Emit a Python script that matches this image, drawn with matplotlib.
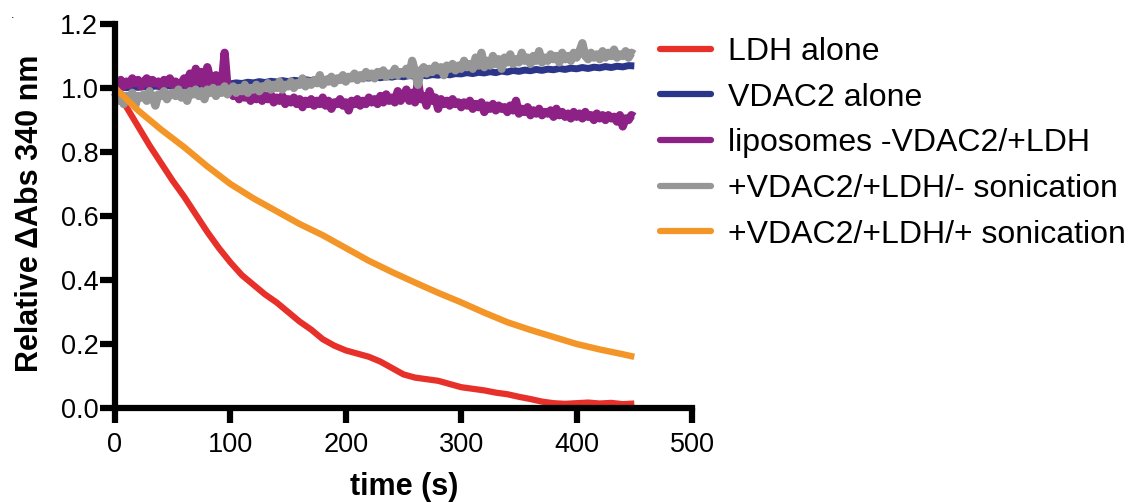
import matplotlib
matplotlib.use("Agg")
import matplotlib.pyplot as plt

plt.rcParams['font.family'] = ['Liberation Sans', 'DejaVu Sans']

# ---------------- data ----------------
labels = ["LDH alone", "VDAC2 alone", "liposomes -VDAC2/+LDH",
          "+VDAC2/+LDH/- sonication", "+VDAC2/+LDH/+ sonication"]
colors = ["#E8302A", "#2B3589", "#8E2186", "#969696", "#F39527"]

# blue trace sampled every 5 s (0..450 s)
t_blue = [0, 5, 10, 15, 20, 25, 30, 35, 40, 45,
          50, 55, 60, 65, 70, 75, 80, 85, 90, 95,
          100, 105, 110, 115, 120, 125, 130, 135, 140, 145,
          150, 155, 160, 165, 170, 175, 180, 185, 190, 195,
          200, 205, 210, 215, 220, 225, 230, 235, 240, 245,
          250, 255, 260, 265, 270, 275, 280, 285, 290, 295,
          300, 305, 310, 315, 320, 325, 330, 335, 340, 345,
          350, 355, 360, 365, 370, 375, 380, 385, 390, 395,
          400, 405, 410, 415, 420, 425, 430, 435, 440, 445,
          450]
vdac2_alone = [1.000, 1.003, 1.001, 1.004, 1.002, 1.005, 1.003, 1.006, 1.004, 1.007,
               1.006, 1.009, 1.007, 1.010, 1.008, 1.011, 1.010, 1.013, 1.011, 1.014,
               1.013, 1.016, 1.014, 1.018, 1.016, 1.020, 1.017, 1.021, 1.019, 1.023,
               1.020, 1.024, 1.022, 1.026, 1.023, 1.027, 1.025, 1.029, 1.026, 1.030,
               1.028, 1.032, 1.029, 1.033, 1.031, 1.035, 1.032, 1.036, 1.034, 1.038,
               1.035, 1.039, 1.037, 1.041, 1.038, 1.042, 1.040, 1.044, 1.041, 1.045,
               1.044, 1.048, 1.045, 1.049, 1.047, 1.051, 1.048, 1.053, 1.050, 1.055,
               1.052, 1.056, 1.054, 1.058, 1.055, 1.059, 1.057, 1.061, 1.058, 1.062,
               1.060, 1.064, 1.061, 1.065, 1.063, 1.067, 1.064, 1.068, 1.066, 1.070,
               1.069]

# purple and grey traces sampled every 2.5 s (0..450 s)
t_dense = [0, 2.5, 5, 7.5, 10, 12.5, 15, 17.5, 20, 22.5,
           25, 27.5, 30, 32.5, 35, 37.5, 40, 42.5, 45, 47.5,
           50, 52.5, 55, 57.5, 60, 62.5, 65, 67.5, 70, 72.5,
           75, 77.5, 80, 82.5, 85, 87.5, 90, 92.5, 95, 97.5,
           100, 102.5, 105, 107.5, 110, 112.5, 115, 117.5, 120, 122.5,
           125, 127.5, 130, 132.5, 135, 137.5, 140, 142.5, 145, 147.5,
           150, 152.5, 155, 157.5, 160, 162.5, 165, 167.5, 170, 172.5,
           175, 177.5, 180, 182.5, 185, 187.5, 190, 192.5, 195, 197.5,
           200, 202.5, 205, 207.5, 210, 212.5, 215, 217.5, 220, 222.5,
           225, 227.5, 230, 232.5, 235, 237.5, 240, 242.5, 245, 247.5,
           250, 252.5, 255, 257.5, 260, 262.5, 265, 267.5, 270, 272.5,
           275, 277.5, 280, 282.5, 285, 287.5, 290, 292.5, 295, 297.5,
           300, 302.5, 305, 307.5, 310, 312.5, 315, 317.5, 320, 322.5,
           325, 327.5, 330, 332.5, 335, 337.5, 340, 342.5, 345, 347.5,
           350, 352.5, 355, 357.5, 360, 362.5, 365, 367.5, 370, 372.5,
           375, 377.5, 380, 382.5, 385, 387.5, 390, 392.5, 395, 397.5,
           400, 402.5, 405, 407.5, 410, 412.5, 415, 417.5, 420, 422.5,
           425, 427.5, 430, 432.5, 435, 437.5, 440, 442.5, 445, 447.5,
           450]

liposomes = [1.000, 1.015, 1.025, 1.005, 1.020, 1.010, 1.030, 1.015, 1.025, 1.005,
             1.020, 1.030, 1.010, 1.025, 1.015, 1.020, 1.005, 1.025, 1.015, 1.030,
             1.010, 1.020, 1.005, 1.015, 1.030, 1.010, 1.045, 1.000, 1.060, 1.020,
             1.050, 1.005, 1.065, 1.030, 1.000, 1.040, 1.025, 1.010, 1.110, 1.000,
             0.990, 0.975, 0.985, 0.965, 0.980, 0.970, 0.985, 0.960, 0.975, 0.965,
             0.980, 0.960, 0.975, 0.965, 0.980, 0.955, 0.970, 0.960, 0.975, 0.950,
             0.965, 0.955, 0.970, 0.950, 0.965, 0.940, 0.960, 0.950, 0.965, 0.945,
             0.960, 0.950, 0.970, 0.945, 0.960, 0.935, 0.955, 0.950, 0.965, 0.945,
             0.955, 0.930, 0.960, 0.950, 0.965, 0.945, 0.960, 0.950, 0.970, 0.955,
             0.965, 0.950, 0.975, 0.955, 0.980, 0.960, 0.970, 0.955, 0.990, 0.960,
             0.975, 0.995, 0.960, 0.985, 0.955, 1.020, 0.965, 0.975, 0.945, 0.990,
             0.960, 0.970, 0.935, 0.965, 0.950, 0.960, 0.945, 0.965, 0.950, 0.955,
             0.940, 0.955, 0.945, 0.960, 0.935, 0.950, 0.940, 0.955, 0.925, 0.945,
             0.935, 0.950, 0.930, 0.945, 0.935, 0.940, 0.925, 0.945, 0.930, 0.960,
             0.920, 0.935, 0.925, 0.940, 0.915, 0.930, 0.920, 0.935, 0.915, 0.925,
             0.920, 0.930, 0.910, 0.935, 0.915, 0.925, 0.910, 0.920, 0.905, 0.925,
             0.910, 0.920, 0.905, 0.925, 0.910, 0.915, 0.900, 0.920, 0.905, 0.915,
             0.900, 0.915, 0.905, 0.910, 0.895, 0.915, 0.880, 0.905, 0.900, 0.915,
             0.910]

no_sonication = [0.985, 0.960, 0.980, 0.950, 0.975, 0.965, 0.985, 0.945, 0.975, 0.970,
                 0.980, 0.960, 0.990, 0.970, 0.945, 0.980, 0.975, 0.990, 0.965, 0.980,
                 0.985, 0.975, 0.995, 0.970, 0.985, 0.960, 0.990, 0.980, 0.995, 0.975,
                 0.990, 0.965, 0.995, 0.985, 1.000, 0.975, 0.995, 0.985, 1.005, 0.980,
                 0.995, 1.005, 0.985, 1.000, 0.990, 1.010, 0.985, 1.000, 0.995, 1.010,
                 0.990, 1.005, 1.000, 1.015, 0.995, 1.010, 1.000, 1.020, 0.995, 1.010,
                 1.005, 1.020, 1.000, 1.015, 1.010, 1.030, 1.005, 1.020, 1.010, 1.025,
                 1.015, 1.040, 1.010, 1.025, 1.020, 1.035, 1.015, 1.030, 1.025, 1.040,
                 1.020, 1.035, 1.030, 1.045, 1.025, 1.040, 1.030, 1.050, 1.035, 1.045,
                 1.030, 1.050, 1.040, 1.055, 1.035, 1.045, 1.040, 1.060, 1.040, 1.050,
                 1.045, 1.060, 1.040, 1.085, 1.050, 1.010, 1.055, 1.065, 1.045, 1.060,
                 1.050, 1.070, 1.055, 1.065, 1.040, 1.070, 1.060, 1.075, 1.055, 1.070,
                 1.060, 1.085, 1.065, 1.075, 1.060, 1.095, 1.070, 1.110, 1.065, 1.085,
                 1.070, 1.100, 1.075, 1.090, 1.060, 1.095, 1.080, 1.105, 1.075, 1.090,
                 1.080, 1.110, 1.085, 1.095, 1.075, 1.100, 1.085, 1.115, 1.080, 1.095,
                 1.085, 1.105, 1.090, 1.100, 1.080, 1.110, 1.090, 1.100, 1.085, 1.110,
                 1.095, 1.115, 1.140, 1.100, 1.090, 1.110, 1.095, 1.105, 1.090, 1.115,
                 1.095, 1.110, 1.100, 1.120, 1.095, 1.105, 1.100, 1.115, 1.095, 1.110,
                 1.105]

# smoother traces
t_ldh = [0, 10, 20, 30, 40, 50, 60, 70, 80, 90,
         100, 110, 120, 130, 140, 150, 160, 170, 180, 190,
         200, 210, 220, 230, 240, 250, 260, 270, 280, 290,
         300, 310, 320, 330, 340, 350, 360, 370, 380, 390,
         400, 410, 420, 430, 440, 450]
ldh_alone = [1.000, 0.940, 0.880, 0.820, 0.765, 0.710, 0.660, 0.605, 0.550, 0.500,
             0.455, 0.415, 0.385, 0.355, 0.330, 0.300, 0.270, 0.245, 0.215, 0.195,
             0.180, 0.170, 0.160, 0.145, 0.125, 0.105, 0.095, 0.090, 0.085, 0.075,
             0.065, 0.060, 0.055, 0.048, 0.043, 0.035, 0.028, 0.020, 0.015, 0.013,
             0.015, 0.017, 0.014, 0.016, 0.012, 0.014]

t_son = [0, 20, 40, 60, 80, 100, 120, 140, 160, 180, 200, 220,
         240, 260, 280, 300, 320, 340, 360, 380, 400, 420, 440, 450]
sonication = [1.000, 0.930, 0.870, 0.815, 0.755, 0.700, 0.655, 0.615, 0.575, 0.540,
              0.500, 0.460, 0.425, 0.392, 0.360, 0.330, 0.298, 0.268, 0.244, 0.222,
              0.200, 0.183, 0.168, 0.160]

x_ticks = [0, 100, 200, 300, 400, 500]
y_ticks = [0.0, 0.2, 0.4, 0.6, 0.8, 1.0, 1.2]

# ---------------- figure ----------------
W, H = 1130, 503
fig = plt.figure(figsize=(W / 100, H / 100), dpi=100)
ax = fig.add_axes([115 / W, 1 - 408 / H, (692 - 115) / W, (408 - 24) / H])

series = [(t_ldh, ldh_alone, 4.5), (t_blue, vdac2_alone, 5.0),
          (t_dense, liposomes, 6.0), (t_dense, no_sonication, 6.0),
          (t_son, sonication, 4.6)]
for (tx, ty, lw), lab, col in zip(series, labels, colors):
    ax.plot(tx, ty, color=col, lw=lw, label=lab, solid_joinstyle='round',
            solid_capstyle='butt', clip_on=False)

ax.set_xlim(0, 500)
ax.set_ylim(0, 1.2)
ax.set_xticks(x_ticks)
ax.set_yticks(y_ticks)
ax.set_xticklabels([str(v) for v in x_ticks])
ax.set_yticklabels([f"{v:.1f}" for v in y_ticks])
for s in ['top', 'right']:
    ax.spines[s].set_visible(False)
for s in ['left', 'bottom']:
    ax.spines[s].set_linewidth(4.5)
    ax.spines[s].set_capstyle('projecting')
ax.tick_params(axis='both', direction='out', length=11, width=4.5,
               labelsize=19.5, color='black')
ax.tick_params(axis='x', pad=6)
ax.tick_params(axis='y', pad=1)

fig.text(404 / W, 1 - 487 / H, "time (s)", ha='center', va='center',
         fontsize=22, fontweight='bold')
fig.text(30 / W, 1 - 213 / H, "Relative \u0394Abs 340 nm", ha='center', va='center',
         rotation=90, fontsize=22, fontweight='bold')

leg = ax.legend(loc='upper left', bbox_to_anchor=(660 / W, 1 - 37 / H),
                bbox_transform=fig.transFigure, frameon=False, fontsize=23,
                handlelength=1.6, handletextpad=0.53, labelspacing=0.49,
                borderpad=0, borderaxespad=0)
for line in leg.get_lines():
    line.set_linewidth(4.5)
    line.set_solid_capstyle('round')

fig.text(13 / W, 1 - 15 / H, ".", fontsize=9, ha='center', va='center')

fig.savefig("out.png", dpi=100)
